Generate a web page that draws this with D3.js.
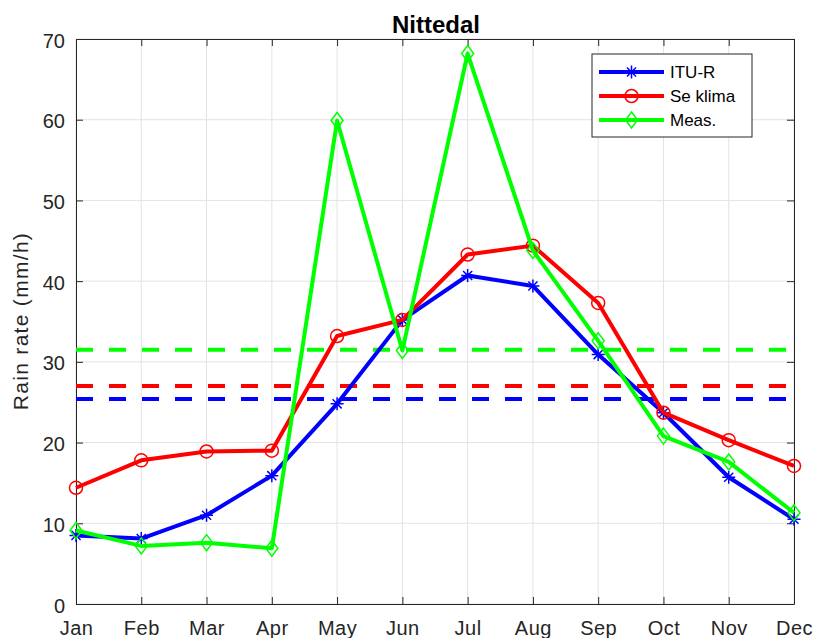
<!DOCTYPE html>
<html><head><meta charset="utf-8">
<script src="https://cdn.jsdelivr.net/npm/d3@7"></script>
<style>body{margin:0;background:#fff}svg{display:block}text{font-family:"Liberation Sans",Arial,sans-serif}</style>
</head><body>
<svg id="c" width="813" height="638"></svg>
<script>
const months = ["Jan","Feb","Mar","Apr","May","Jun","Jul","Aug","Sep","Oct","Nov","Dec"];
const ituR   = [8.5, 8.1, 11.0, 15.9, 24.8, 35.2, 40.7, 39.4, 30.9, 23.7, 15.7, 10.5];
const seKlima= [14.4, 17.8, 18.9, 19.0, 33.2, 35.2, 43.3, 44.4, 37.3, 23.7, 20.3, 17.1];
const meas   = [9.1, 7.2, 7.6, 6.9, 59.9, 31.4, 68.2, 43.8, 32.6, 20.8, 17.6, 11.3];
const meanLevels = [25.4, 27.0, 31.5]; // ITU-R, Se klima, Meas.
const seriesNames = ["ITU-R","Se klima","Meas."];
const yTicks = [0,10,20,30,40,50,60,70];

const colors = ["#0000ff","#ff0000","#00ff00"];
const markers = ["star","circle","diamond"];
const svg = d3.select("#c");
const L=76, R=794, T=39, B=604;
const x = d3.scalePoint().domain(months).range([L,R]);
const y = d3.scaleLinear().domain([0,70]).range([B,T]);

// grid
const g = svg.append("g");
g.selectAll(".gx").data(months).join("line")
  .attr("x1",d=>x(d)).attr("x2",d=>x(d)).attr("y1",T).attr("y2",B)
  .attr("stroke","#e3e3e3").attr("stroke-width",1);
g.selectAll(".gy").data(yTicks).join("line")
  .attr("x1",L).attr("x2",R).attr("y1",d=>y(d)).attr("y2",d=>y(d))
  .attr("stroke","#e3e3e3").attr("stroke-width",1);

// axes
const ax = svg.append("g").attr("transform",`translate(0,${B})`)
  .call(d3.axisBottom(x).tickSizeInner(-7).tickSizeOuter(0).tickPadding(17));
const ay = svg.append("g").attr("transform",`translate(${L},0)`)
  .call(d3.axisLeft(y).tickValues(yTicks).tickSizeInner(-7).tickSizeOuter(0).tickPadding(11));
const axT = svg.append("g").attr("transform",`translate(0,${T})`)
  .call(d3.axisTop(x).tickSizeInner(-7).tickSizeOuter(0).tickFormat(""));
const ayR = svg.append("g").attr("transform",`translate(${R},0)`)
  .call(d3.axisRight(y).tickValues(yTicks).tickSizeInner(-7).tickSizeOuter(0).tickFormat(""));
[ax,ay,axT,ayR].forEach(a=>{
  a.select(".domain").attr("stroke","#262626").attr("stroke-width",1);
  a.selectAll(".tick line").attr("stroke","#262626");
  a.selectAll("text").attr("font-size",20).attr("fill","#262626");
});
ax.selectAll("text").attr("letter-spacing","0.5px");
ay.selectAll("text").attr("dy","0.4em");

// dashed mean lines
meanLevels.forEach((v,i)=>{
  svg.append("line").attr("x1",L).attr("x2",R).attr("y1",y(v)).attr("y2",y(v))
    .attr("stroke",colors[i]).attr("stroke-width",4).attr("stroke-dasharray","17,16");
});

function drawMarker(sel, type, cx, cy, color){
  if(type==="circle"){
    sel.append("circle").attr("cx",cx).attr("cy",cy).attr("r",6.5)
      .attr("fill","none").attr("stroke",color).attr("stroke-width",1.5);
  } else if(type==="diamond"){
    const s=8;
    sel.append("path").attr("d",`M${cx},${cy-s}L${cx+s*0.75},${cy}L${cx},${cy+s}L${cx-s*0.75},${cy}Z`)
      .attr("fill","none").attr("stroke",color).attr("stroke-width",1.5);
  } else {
    const s=6.5, d=s*0.7;
    sel.append("path").attr("d",`M${cx},${cy-s}V${cy+s}M${cx-s},${cy}H${cx+s}M${cx-d},${cy-d}L${cx+d},${cy+d}M${cx-d},${cy+d}L${cx+d},${cy-d}`)
      .attr("stroke",color).attr("stroke-width",1.5);
  }
}

const line = d3.line().x((d,i)=>x(months[i])).y(d=>y(d));
[ituR, seKlima, meas].forEach((arr,k)=>{
  const sg = svg.append("g");
  sg.append("path").datum(arr).attr("d",line).attr("fill","none")
    .attr("stroke",colors[k]).attr("stroke-width",4).attr("stroke-linejoin","round");
  arr.forEach((v,i)=>drawMarker(sg, markers[k], x(months[i]), y(v), colors[k]));
});

// title
svg.append("text").attr("x",436).attr("y",33).attr("text-anchor","middle")
  .attr("font-size",24).attr("font-weight","bold").attr("fill","#000").text("Nittedal");
// y label
svg.append("text").attr("transform",`translate(28,${321}) rotate(-90)`)
  .attr("text-anchor","middle").attr("font-size",21).attr("letter-spacing","1.3px")
  .attr("fill","#262626").text("Rain rate (mm/h)");

// legend
const lg = svg.append("g");
lg.append("rect").attr("x",592).attr("y",54).attr("width",160).attr("height",83)
  .attr("fill","#fff").attr("stroke","#262626").attr("stroke-width",1);
seriesNames.forEach((n,i)=>{
  const ly = 72 + i*24;
  lg.append("line").attr("x1",599).attr("x2",664).attr("y1",ly).attr("y2",ly)
    .attr("stroke",colors[i]).attr("stroke-width",4);
  drawMarker(lg, markers[i], 631.5, ly, colors[i]);
  lg.append("text").attr("x",670).attr("y",ly+6).attr("font-size",17).attr("fill","#000").text(n);
});
</script>
</body></html>
